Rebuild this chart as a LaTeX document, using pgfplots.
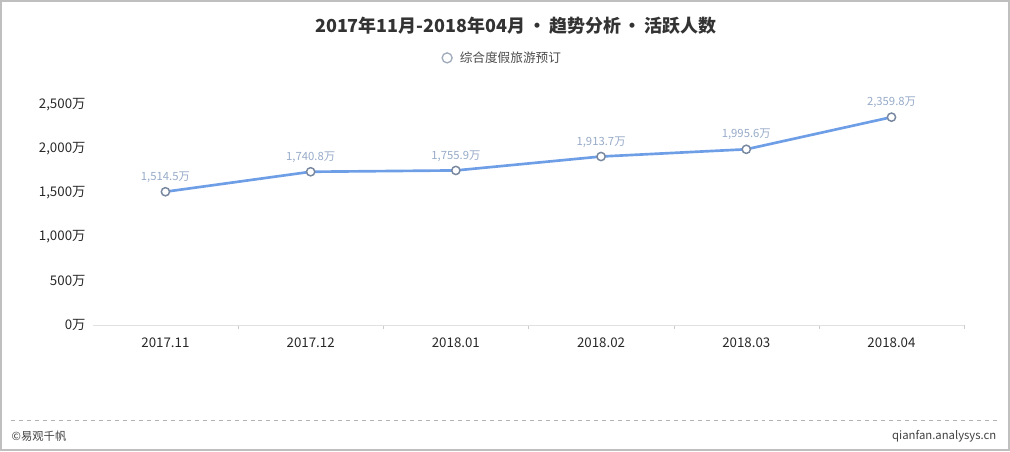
\documentclass[border=0pt]{standalone}
\usepackage{pgfplots}
\pgfplotsset{compat=1.18}
\usepackage{fontspec}
\setmainfont{Noto Sans CJK SC}

\definecolor{lineblue}{RGB}{110,158,230}
\definecolor{markedge}{RGB}{120,135,160}
\definecolor{lbl}{RGB}{150,170,200}
\definecolor{ticktxt}{RGB}{40,40,40}
\definecolor{axisgray}{RGB}{225,225,225}

\begin{document}
\begin{tikzpicture}[x=0.75pt,y=0.75pt]
% frame of the whole picture, 1010 x 450 px
\draw[black!25, line width=1.5pt] (0,0) rectangle (1010,450);

\begin{axis}[
    at={(92*0.75pt,125*0.75pt)}, anchor=south west,
    scale only axis,
    width=654.75pt, height=165.75pt,
    xmin=-0.5, xmax=5.5,
    ymin=0, ymax=2500,
    xtick={0,1,2,3,4,5},
    xticklabels={2017.11,2017.12,2018.01,2018.02,2018.03,2018.04},
    minor xtick={0.5,1.5,2.5,3.5,4.5,5.5},
    ytick={0,500,1000,1500,2000,2500},
    yticklabels={0万,500万,{1,000万},{1,500万},{2,000万},{2,500万}},
    axis x line*=bottom,
    axis y line*=left,
    x axis line style={axisgray, line width=1pt, -},
    y axis line style={draw=none, -},
    major tick length=0pt,
    minor tick length=3pt,
    tick align=outside,
    minor tick style={black!20},
    ticklabel style={font=\fontsize{10}{12}\selectfont, text=ticktxt},
    xticklabel style={yshift=-6pt},
    yticklabel style={xshift=-2pt},
    clip=false,
    /pgf/number format/assume math mode=true,
    nodes near coords,
    point meta=explicit symbolic,
    nodes near coords style={font=\fontsize{8.5}{10}\selectfont, text=lbl, yshift=3pt},
]
\addplot[color=lineblue, line width=2pt,
    mark=*, mark size=3.1pt,
    mark options={fill=white, draw=markedge, line width=1.1pt}]
    coordinates {
    (0,1514.5) [{1,514.5万}]
    (1,1740.8) [{1,740.8万}]
    (2,1755.9) [{1,755.9万}]
    (3,1913.7) [{1,913.7万}]
    (4,1995.6) [{1,995.6万}]
    (5,2359.8) [{2,359.8万}]
};
\end{axis}

% title and legend
\node[font=\bfseries\fontsize{13.5}{15}\selectfont, text=black!80] at (516,425) {2017年11月-2018年04月\,•\,趋势分析\,•\,活跃人数};
\draw[markedge!70, fill=white, line width=1pt] (447,393) circle (5);
\node[anchor=west, font=\fontsize{9.5}{11}\selectfont, text=black!70] at (455,393) {综合度假旅游预订};

% footer
\draw[black!30, dashed, line width=0.6pt] (10,30) -- (1000,30);
\node[anchor=west, font=\fontsize{8.5}{10}\selectfont, text=black!75] at (6,14) {©易观千帆};
\node[anchor=east, font=\fontsize{8.5}{10}\selectfont, text=black!75] at (1002,14) {qianfan.analysys.cn};
\end{tikzpicture}
\end{document}
